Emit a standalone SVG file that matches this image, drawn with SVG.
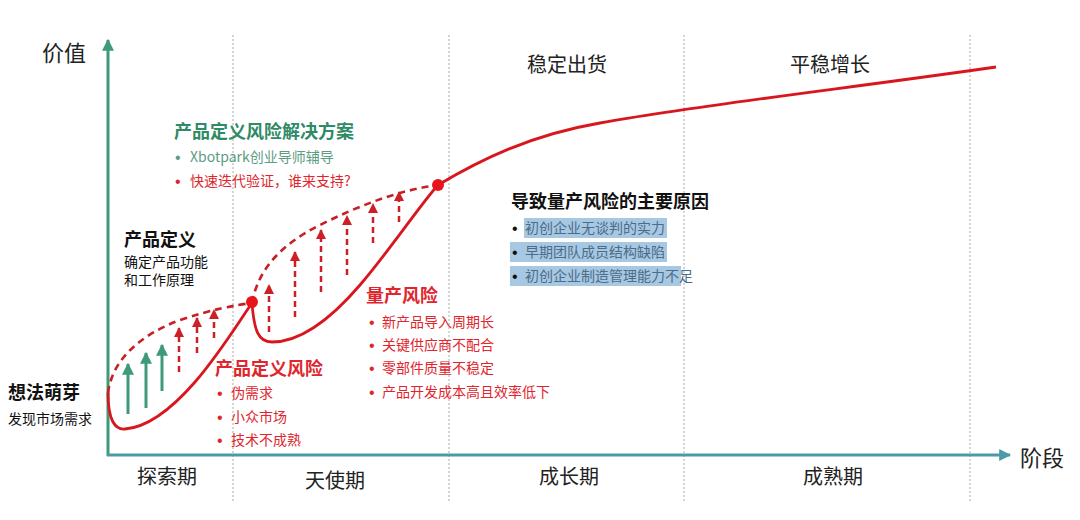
<svg xmlns="http://www.w3.org/2000/svg" width="1080" height="520" viewBox="0 0 1080 520">
<defs>
<marker id="ahG" viewBox="0 0 10 10" refX="9" refY="5" markerWidth="4" markerHeight="4" orient="auto" markerUnits="strokeWidth"><path d="M0,0 L10,5 L0,10 z" fill="#3f9a7a"/></marker>
<marker id="ahT" viewBox="0 0 10 10" refX="9" refY="5" markerWidth="4" markerHeight="4" orient="auto" markerUnits="strokeWidth"><path d="M0,0 L10,5 L0,10 z" fill="#4a9aa8"/></marker>
<marker id="ahR" viewBox="0 0 10 10" refX="9" refY="5" markerWidth="4" markerHeight="4" orient="auto" markerUnits="strokeWidth"><path d="M0,0 L10,5 L0,10 z" fill="#cc1f26"/></marker>
</defs>
<style>
text{font-family:"Noto Sans CJK SC","Microsoft YaHei",sans-serif;}
.ax{font-size:22px;fill:#222;}
.ph{font-size:20px;fill:#222;}
.h{font-size:18px;font-weight:bold;}
.s{font-size:14px;}
text.b{font-family:"Liberation Sans",Arial,sans-serif;font-size:16px;}
.blk{fill:#111;}
.red{fill:#e0252c;}
.grn{fill:#2f8a66;}
.gl{fill:#5d9c84;}
.hl{fill:#4c6c88;}
.grid{stroke:#aaa;stroke-width:1;stroke-dasharray:2 2;fill:none;}
.curve{stroke:#d9161d;stroke-width:2.8;fill:none;}
.dash{stroke:#c81e24;stroke-width:2.6;fill:none;stroke-dasharray:7 5;}
.ga{stroke:#3f9a7a;stroke-width:3;marker-end:url(#ahG);}
.ra{stroke:#cc1f26;stroke-width:2.5;stroke-dasharray:6 4;marker-end:url(#ahR);}
.dot{fill:#e8141c;}
.hlr{fill:#a7c8e2;}
</style>
<rect width="1080" height="520" fill="#fff"/>
<g id="grid">
<line class="grid" x1="233" y1="35" x2="233" y2="502"/>
<line class="grid" x1="449" y1="35" x2="449" y2="502"/>
<line class="grid" x1="684" y1="35" x2="684" y2="502"/>
<line class="grid" x1="970" y1="35" x2="970" y2="502"/>
</g>
<g id="axes">
<line x1="108" y1="456" x2="108" y2="40" stroke="#3f9a7a" stroke-width="3" marker-end="url(#ahG)"/>
<line x1="107" y1="455" x2="1010" y2="455" stroke="#4a9aa8" stroke-width="3" marker-end="url(#ahT)"/>
<text class="ax" x="42" y="61">价值</text>
<text class="ax" x="1020" y="466">阶段</text>
</g>
<g id="phases">
<text class="ph" x="167" y="484" text-anchor="middle">探索期</text>
<text class="ph" x="335" y="488" text-anchor="middle">天使期</text>
<text class="ph" x="569" y="484" text-anchor="middle">成长期</text>
<text class="ph" x="833" y="484" text-anchor="middle">成熟期</text>
<text class="ph" x="567" y="72" text-anchor="middle">稳定出货</text>
<text class="ph" x="830" y="72" text-anchor="middle">平稳增长</text>
</g>
<g id="connectors">
<path class="dash" d="M108,393 C112,360 140,335 180,320 C210,310 235,305 252,303"/>
<path class="dash" d="M252,303 C258,270 280,245 320,225 C360,205 400,190 438,185"/>
<path class="curve" d="M108,393 C108,420 115,430 125,429 C150,427 175,405 195,382 C220,353 240,320 252,303"/>
<path class="curve" d="M252,303 C254,330 258,342 272,342 C300,342 330,320 360,285 C390,250 420,205 438,185"/>
<path class="curve" d="M438,185 C480,160 530,135 600,123 C700,105 850,88 996,67"/>
<line class="ga" x1="128" y1="414" x2="128" y2="364"/>
<line class="ga" x1="146" y1="408" x2="146" y2="353"/>
<line class="ga" x1="162" y1="391" x2="162" y2="345"/>
<line class="ra" x1="179" y1="372" x2="179" y2="328"/>
<line class="ra" x1="197" y1="353" x2="197" y2="318"/>
<line class="ra" x1="214" y1="338" x2="214" y2="310"/>
<line class="ra" x1="269" y1="332" x2="269" y2="285"/>
<line class="ra" x1="295" y1="317" x2="295" y2="252"/>
<line class="ra" x1="321" y1="292" x2="321" y2="230"/>
<line class="ra" x1="347" y1="275" x2="347" y2="216"/>
<line class="ra" x1="373" y1="243" x2="373" y2="204"/>
<line class="ra" x1="399" y1="222" x2="399" y2="192"/>
<circle class="dot" cx="252" cy="302" r="6"/>
<circle class="dot" cx="438" cy="185" r="6"/>
</g>
<g id="idea">
<text class="h blk" x="8" y="399">想法萌芽</text>
<text class="s blk" x="8" y="424">发现市场需求</text>
</g>
<g id="definition">
<text class="h blk" x="124" y="246">产品定义</text>
<text class="s blk" x="124" y="267">确定产品功能</text>
<text class="s blk" x="124" y="285">和工作原理</text>
</g>
<g id="solution">
<text class="h grn" x="174" y="138">产品定义风险解决方案</text>
<text class="b gl" x="175" y="163">•</text><text class="s gl" x="190" y="162">Xbotpark创业导师辅导</text>
<text class="b red" x="175" y="187">•</text><text class="s red" x="190" y="186">快速迭代验证，谁来支持?</text>
</g>
<g id="def-risk">
<text class="h red" x="215" y="375">产品定义风险</text>
<text class="b red" x="217" y="399">•</text><text class="s red" x="231" y="398">伪需求</text>
<text class="b red" x="217" y="423">•</text><text class="s red" x="231" y="422">小众市场</text>
<text class="b red" x="217" y="446">•</text><text class="s red" x="231" y="445">技术不成熟</text>
</g>
<g id="mass-risk">
<text class="h red" x="366" y="302">量产风险</text>
<text class="b red" x="369" y="328">•</text><text class="s red" x="382" y="327">新产品导入周期长</text>
<text class="b red" x="369" y="351">•</text><text class="s red" x="382" y="350">关键供应商不配合</text>
<text class="b red" x="369" y="374">•</text><text class="s red" x="382" y="373">零部件质量不稳定</text>
<text class="b red" x="369" y="398">•</text><text class="s red" x="382" y="397">产品开发成本高且效率低下</text>
</g>
<g id="causes">
<text class="h blk" x="511" y="208">导致量产风险的主要原因</text>
<rect class="hlr" x="524" y="218" width="143" height="20"/>
<rect class="hlr" x="510" y="242" width="157" height="20"/>
<rect class="hlr" x="510" y="266" width="171" height="20"/>
<text class="b blk" x="512" y="234">•</text><text class="s hl" x="525" y="233">初创企业无谈判的实力</text>
<text class="b blk" x="512" y="258">•</text><text class="s hl" x="525" y="257">早期团队成员结构缺陷</text>
<text class="b blk" x="512" y="282">•</text><text class="s hl" x="525" y="281">初创企业制造管理能力不足</text>
</g>
</svg>
